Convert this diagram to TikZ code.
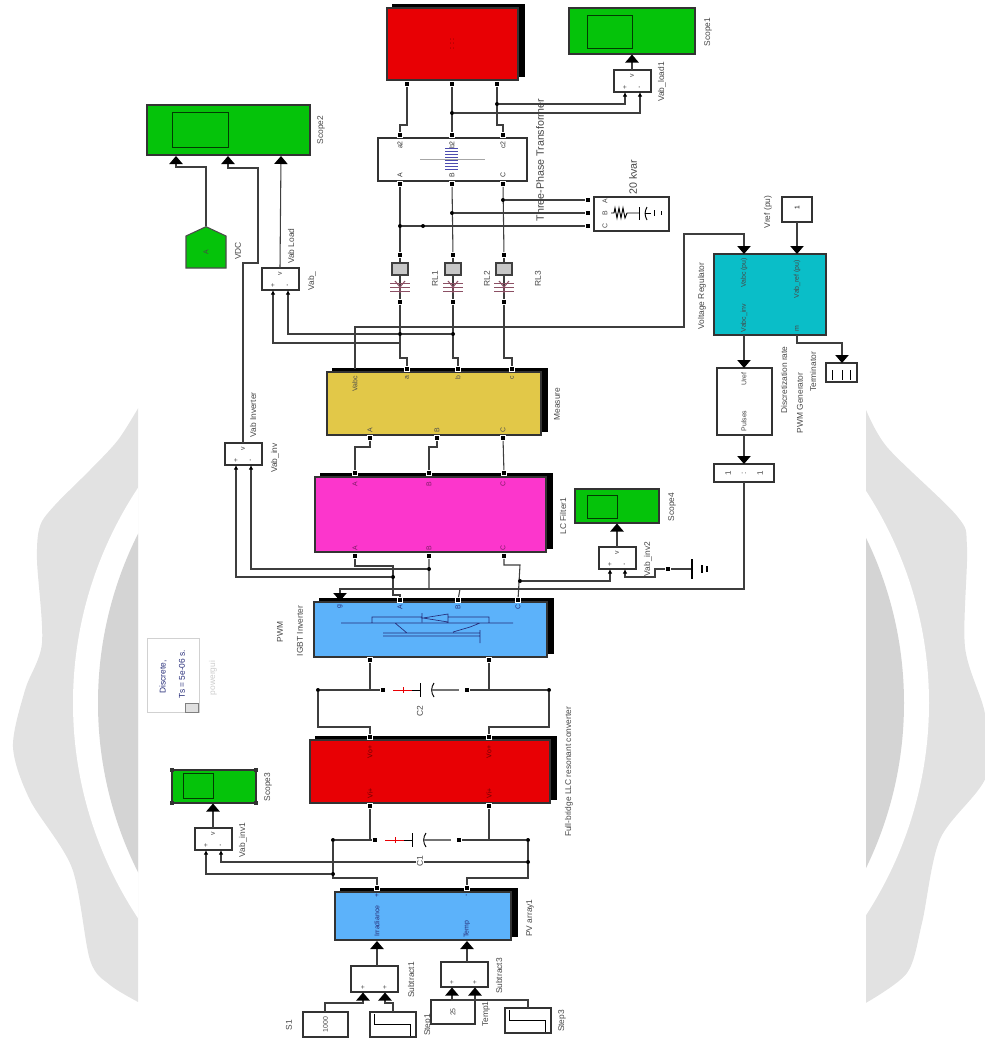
\documentclass[tikz,border=0pt]{standalone}
\usepackage{fontspec}
\setmainfont{Liberation Sans}
\usetikzlibrary{arrows.meta,calc,fit,positioning,shadows,shapes.symbols}
\definecolor{slgreen}{RGB}{5,195,10}
\definecolor{slblue}{RGB}{92,178,250}
\definecolor{slred}{RGB}{232,0,4}
\definecolor{slpink}{RGB}{252,54,204}
\definecolor{slgold}{RGB}{226,200,72}
\definecolor{slteal}{RGB}{10,190,200}
\definecolor{slnavy}{RGB}{38,44,120}
\definecolor{slwire}{RGB}{62,62,62}
\definecolor{slcoil}{RGB}{140,80,100}
\definecolor{wmouter}{RGB}{226,226,226}
\definecolor{wminner}{RGB}{212,212,212}

\begin{document}
\begin{tikzpicture}[
  x=0.75pt,y=-0.75pt,
  block/.style={draw=black!80,line width=0.8pt,inner sep=0pt,outer sep=0pt},
  blackback/.style={block,copy shadow={shadow xshift=4.5pt,shadow yshift=2.4pt,fill=black,draw=black,opacity=1}},
  scopebox/.style={block,fill=slgreen},
  screen/.style={draw=black!70!slgreen,line width=0.7pt,inner sep=0pt},
  lbl/.style={rotate=90,font=\fontsize{6.3}{7}\selectfont,text=black!72,inner sep=0pt},
  bigtxt/.style={lbl,font=\fontsize{8}{9}\selectfont},
  ptxt/.style={lbl,font=\fontsize{5.2}{6}\selectfont},
  port/.style={draw=white,fill=black,line width=1pt,inner sep=0pt,minimum width=4.2pt,minimum height=3.4pt},
  dot/.style={circle,fill=black,inner sep=0pt,minimum size=3pt},
  wire/.style={slwire,line width=0.8pt},
  sig/.style={wire,-{Triangle[length=6pt,width=10pt,color=black]}},
  sigs/.style={wire,-{Latex[length=3.5pt,width=3.5pt,color=black]}},
  sym/.style={line width=0.5pt}
]
  \useasboundingbox (0,0) rectangle (985,1040);

  % watermark
  \begin{scope}
    \clip (0,0) rectangle (138,1040);
    \fill[wmouter] plot[smooth] coordinates {(140,405) (118,440) (90,470) (55,505) (40,526) (37,560) (42,643) (25,690) (13,747) (30,800) (72,868) (90,960) (110,985) (140,1003)} -- cycle;
    \fill[white] (501,703) ellipse [x radius=428,y radius=406];
    \fill[wminner] (501,703) ellipse [x radius=403,y radius=389];
  \end{scope}
  \begin{scope}
    \clip (866,0) rectangle (985,1040);
    \fill[wmouter] plot[smooth] coordinates {(864,405) (887,447) (957,516) (967,547) (965,647) (985,714) (986,777) (940,839) (922,923) (907,973) (864,1004)} -- cycle;
    \fill[white] (501,703) ellipse [x radius=428,y radius=406];
    \fill[wminner] (501,703) ellipse [x radius=403,y radius=389];
  \end{scope}

  % scopes
  \node[scopebox,fit={(147,105)(310,155)}] (scope2) {};
  \node[screen,fit={(172,112)(228,147)}] (scr2) {};
  \node[scopebox,fit={(569,8)(695,54)}] (scope1) {};
  \node[screen,fit={(587,15)(632,48)}] (scr1) {};
  \node[scopebox,fit={(575,489)(659,523)}] (scope4) {};
  \node[screen,fit={(587,495)(617,518)}] (scr4) {};
  \node[scopebox,fit={(172,770)(256,803)}] (scope3) {};
  \node[screen,fit={(183,773)(213,798)}] (scr3) {};
  \foreach \c in {north west,north east,south west,south east}
    \fill[black!80] (scope3.\c) ++(-2,-2) rectangle ++(4,4);
  \node[lbl] (lscope2) at (321,130) {Scope2};
  \node[lbl] (lscope1) at (708,32) {Scope1};
  \node[lbl] (lscope4) at (672,507) {Scope4};
  \node[lbl] (lscope3) at (268,787) {Scope3};

  % main chain
  \node[blackback,fill=slred,fit={(387,8)(518,80)}] (load) {};
  \node[block,fill=white,fit={(378,138)(527,181)}] (xfmr) {};
  \node[blackback,fill=slgold,fit={(327,372)(541,435)}] (measure) {};
  \node[blackback,fill=slpink,fit={(315,477)(546,552)}] (filter) {};
  \node[blackback,fill=slblue,fit={(314,602)(547,657)}] (inverter) {};
  \node[blackback,fill=slred,fit={(310,740)(550,803)}] (llc) {};
  \node[blackback,fill=slblue,fit={(335,892)(511,940)}] (pv) {};

  \node[lbl] (lmeasure) at (557,404) {Measure};
  \node[lbl] (lfilter) at (563,516) {LC Filter1};
  \node[lbl] (lpwm) at (280,632) {PWM};
  \node[lbl] (liv) at (300,631) {IGBT Inverter};
  \node[lbl] (lllc) at (569,772) {Full-bridge LLC resonant converter};
  \node[lbl] (lpv) at (530,918) {PV array1};
  \node[bigtxt] (lxf) at (540,160) {Three-Phase Transformer};
  \node[ptxt,text=black!70!red] (ldash) at (452,44) {: : :};

  % control side
  \node[block,fill=white,fit={(782,197)(812,222)}] (vref) {\fontsize{5}{6}\selectfont\rotatebox{90}{1}};
  \node[block,fill=slteal,fit={(714,254)(826,335)}] (regulator) {};
  \node[block,fill=white,fit={(717,368)(772,435)}] (pulses) {};
  \node[block,fill=white,fit={(714,464)(774,482)}] (mux) {};
  \node[block,fill=white,fit={(826,363)(857,382)}] (term) {};
  \node[block,fill=white,fit={(594,197)(669,231)}] (bank) {};
  \node[lbl] (lvref) at (768,212) {Vref (pu)};
  \node[lbl] (lreg) at (702,296) {Voltage Regulator};
  \node[lbl] (ldisc) at (784,380) {Discretization rate};
  \node[lbl] (lgen) at (800,403) {PWM Generator};
  \node[lbl] (lterm) at (813,372) {Terminator};
  \node[bigtxt] (lbank) at (633,177) {20 kvar};
  \node[ptxt] (t1) at (744,273) {Vabc (pu)};
  \node[ptxt] (t2) at (744,318) {Vabc\_inv};
  \node[ptxt] (t3) at (797,279) {Vab\_ref (pu)};
  \node[ptxt] (t4) at (797,329) {m};
  \node[ptxt] (t5) at (744,379) {Uref};
  \node[ptxt] (t6) at (744,421) {Pulses};
  \node[ptxt,font=\fontsize{6}{7}\selectfont] (t7) at (728,473) {1};
  \node[ptxt,font=\fontsize{6}{7}\selectfont] (t8) at (744,473) {:};
  \node[ptxt,font=\fontsize{6}{7}\selectfont] (t9) at (760,473) {1};

  % voltage measurements
  \foreach \n/\x/\y in {vload/262/268,vload1/614/70,vinv/225/443,vinv2/599/547,vinv1/195/828} {
    \node[block,fill=white,fit={(\x,\y)(\x+37,\y+22)}] (\n) {};
    \coordinate (\n I1) at (\x+11,\y+22);
    \coordinate (\n I2) at (\x+26,\y+22);
    \coordinate (\n O) at (\x+18,\y);
    \node[ptxt] at (\x+11,\y+17) {+};
    \node[ptxt] at (\x+26,\y+17) {-};
    \node[ptxt] at (\x+18,\y+6) {v};
  }
  \node[lbl] (lv1) at (291,246) {Vab Load};
  \node[lbl] (lv2) at (312,281) {Vab\_};
  \node[lbl] (lv3) at (662,82) {Vab\_load1};
  \node[lbl] (lv4) at (253,415) {Vab Inverter};
  \node[lbl] (lv5) at (275,458) {Vab\_inv};
  \node[lbl] (lv6) at (648,559) {Vab\_inv2};
  \node[lbl] (lv7) at (243,840) {Vab\_inv1};
  \node[lbl] (lvdc) at (238,251) {VDC};
  \node[signal,signal to=north,signal pointer angle=130,draw=black!70,line width=0.8pt,fill=slgreen,
    minimum width=30pt,minimum height=24pt,inner sep=0pt] (gotoA) at (206,252) {};
  \node[ptxt] at (gotoA) {A};

  % solver box
  \node[draw=black!18,fit={(147,638)(199,712)},inner sep=0pt] (gui) {};
  \node[lbl,text=slnavy] (g1) at (163,677) {Discrete,};
  \node[lbl,text=slnavy] (g2) at (182,674) {Ts = 5e-06 s.};
  \node[draw=black!50,fill=black!12,fit={(185,703)(198,712)},inner sep=0pt] (g3) {};
  \node[lbl,text=black!20] (g4) at (213,678) {powergui};

  % PV inputs
  \node[block,fill=white,fit={(351,966)(398,992)}] (sub1) {};
  \node[block,fill=white,fit={(441,962)(488,987)}] (sub3) {};
  \node[block,fill=white,fit={(303,1012)(348,1037)}] (s1) {};
  \node[block,fill=white,fit={(370,1012)(416,1037)}] (step1) {};
  \node[block,fill=white,fit={(431,1000)(475,1024)}] (temp) {};
  \node[block,fill=white,fit={(505,1008)(551,1033)}] (step3) {};
  \foreach \x/\y in {370/1012,505/1008}
    \draw[sym,black,line width=0.7pt] (\x+4,\y+2) -- (\x+4,\y+12) -- (\x+40,\y+12) -- (\x+40,\y+24);
  \node[ptxt] at (s1) {1000};
  \node[ptxt] at (temp) {25};
  \node[lbl] (lsub1) at (411,980) {Subtract1};
  \node[lbl] (lsub3) at (499,976) {Subtract3};
  \node[lbl] (ls1) at (289,1025) {S1};
  \node[lbl] (lst1) at (428,1025) {Step1};
  \node[lbl] (ltm) at (486,1014) {Temp1};
  \node[lbl] (lst3) at (562,1021) {Step3};
  \node[ptxt] at (363,987) {+};
  \node[ptxt] at (385,987) {+};
  \node[ptxt] at (452,982) {+};
  \node[ptxt] at (475,982) {+};

  % ports on the power blocks
  \foreach \n/\x in {1/407,2/452,3/497} \node[port] (loadP\n) at (\x,84) {};
  \foreach \n/\x/\xb/\xc/\xd in {1/400/400/407/370,2/452/453/458/437,3/503/504/512/503} {
    \node[port] (xfT\n) at (\x,135) {};
    \node[port] (xfB\n) at (\x,184) {};
    \node[port] (rlT\n) at (\xb,255) {};
    \node[port] (rlB\n) at (\xb,302) {};
    \node[port] (mT\n) at (\xc,369) {};
    \node[port] (mB\n) at (\xd,438) {};
  }
  \foreach \n/\x/\xi in {1/355/400,2/429/458,3/504/518} {
    \node[port] (fT\n) at (\x,473) {};
    \node[port] (fB\n) at (\x,556) {};
    \node[port] (iT\n) at (\xi,600) {};
  }
  \foreach \n/\x/\xp in {1/370/377,2/489/467} {
    \node[port] (iB\n) at (\x,660) {};
    \node[port] (cT\n) at (\x,737) {};
    \node[port] (cB\n) at (\x,806) {};
    \node[port] (pT\n) at (\xp,888) {};
    \node[ptxt,text=slred!45!black] at (\x,752) {Vo+};
    \node[ptxt,text=slred!45!black] at (\x,793) {Vi+};
  }
  \coordinate (mV) at (355,369);
  \node[ptxt,text=slnavy] at (377,895) {+};
  \node[ptxt,text=slnavy] at (467,895) {-};
  \node[ptxt,text=slnavy] at (377,921) {Irradiance};
  \node[ptxt,text=slnavy] at (467,929) {Temp};
  \node[ptxt,text=black!70] at (355,384) {Vabc};
  \foreach \l/\x/\u in {a/407/A,b/458/B,c/512/C} \node[ptxt,text=black!70] at (\x,378) {\l};
  \foreach \l/\x in {A/370,B/437,C/503} \node[ptxt,text=black!70] at (\x,430) {\l};
  \foreach \l/\x in {A/355,B/429,C/503} {
    \node[ptxt,text=slpink!50!black] at (\x,484) {\l};
    \node[ptxt,text=slpink!50!black] at (\x,548) {\l};
  }
  \foreach \l/\x in {g/340,A/400,B/458,C/518} \node[ptxt,text=slnavy] at (\x,607) {\l};
  \foreach \l/\x in {a2/400,b2/452,c2/503} \node[ptxt,text=black!80] at (\x,145) {\l};
  \foreach \l/\x in {A/400,B/452,C/503} \node[ptxt,text=black!80] at (\x,175) {\l};

  % RL branches
  \foreach \n/\x in {1/400,2/453,3/504} {
    \draw[wire] (xfB\n) -- (rlT\n);
    \draw[wire] (rlT\n) -- (rlB\n);
    \node[draw=black!75,fill=black!22,line width=0.8pt,fit={(\x-8,263)(\x+8,275)},inner sep=0pt] (rlR\n) {};
    \foreach \d in {283,287,291}
      \draw[slcoil,line width=0.7pt] (\x-10,\d) -- (\x+10,\d);
    \draw[slcoil,line width=0.8pt] (\x-5,281) -- (\x,287) -- (\x+5,281) (\x,287) -- (\x,293);
  }
  \node[lbl] (lrl1) at (435,279) {RL1};
  \node[lbl] (lrl2) at (487,279) {RL2};
  \node[lbl] (lrl3) at (538,279) {RL3};

  % transformer symbol
  \draw[sym,black!35] (420,159) -- (485,159);
  \foreach \d in {148,151,...,169}
    \draw[sym,blue!55!black!70] (445,\d) -- (458,\d);

  % bank symbol
  \foreach \l/\y in {A/201,B/213,C/226} \node[ptxt] at (605,\y) {\l};
  \draw[sym,line width=0.7pt] (611,213) -- (614,213) -- (615,208) -- (617,218) -- (619,208) -- (621,218) -- (623,208) -- (625,218) -- (627,213) -- (639,213);
  \draw[sym,line width=0.7pt] (639,207) -- (639,220);
  \draw[sym,line width=0.7pt] (647,207) to[bend right=30] (647,220);
  \draw[sym,line width=0.7pt] (645,213) -- (651,213) (654,210) -- (654,216) (661,211) -- (661,215);

  % terminator ticks
  \draw[sym,line width=0.7pt] (832,370) -- (832,380) (842,370) -- (842,380) (850,370) -- (850,380);

  % inverter symbol
  \draw[sym,slnavy] (341,623) -- (513,623)
    (372,623) -- (372,617) -- (422,617) (422,613) -- (422,622)
    (423,618) -- (448,614) -- (448,622) -- cycle
    (448,617) -- (489,617) -- (489,623)
    (383,633) -- (480,633) (383,636) -- (480,636) (480,630) -- (480,643)
    (395,623) -- (407,633) (453,632) -- (470,627) -- (480,623);

  % capacitors
  \foreach \n/\y/\dx/\l/\r in {2/690/0/318/549,1/840/-8/333/528} {
    \node[dot] (capL\n) at (\l,\y) {};
    \node[dot] (capR\n) at (\r,\y) {};
    \node[port] (capA\n) at (383+\dx,\y) {};
    \node[port] (capB\n) at (467+\dx,\y) {};
    \draw[wire] (capL\n) -- (capA\n);
    \draw[wire] (capB\n) -- (capR\n);
    \draw[slred,line width=0.6pt] (393+\dx,\y) -- (412+\dx,\y) (403+\dx,\y-3) -- (403+\dx,\y+3);
    \draw[line width=0.7pt] (412+\dx,\y) -- (420+\dx,\y) (420+\dx,\y-7) -- (420+\dx,\y+7);
    \draw[line width=0.7pt] (434+\dx,\y-7) to[bend right=35] (434+\dx,\y+7);
    \draw[wire,black!55] (432+\dx,\y) -- (459+\dx,\y);
  }
  \node[lbl] (lc2) at (420,711) {C2};

  % phases down the chain
  \draw[wire] (loadP1) |- (400,125) -- (xfT1);
  \draw[wire] (loadP2) -- (xfT2);
  \draw[wire] (loadP3) |- (503,125) -- (xfT3);
  \draw[wire] (rlB1) |- (407,358) -- (mT1);
  \draw[wire] (rlB2) |- (458,358) -- (mT2);
  \draw[wire] (rlB3) |- (512,358) -- (mT3);
  \draw[wire] (mB1) |- (355,447) -- (fT1);
  \draw[wire] (mB2) |- (429,447) -- (fT2);
  \draw[wire] (mB3) -- (fT3);
  \draw[wire] (fB1) |- (393,566) -- (393,595) -| (iT1);
  \draw[wire] (fB2) -- (429,589) (460,589) -- (iT2);
  \draw[wire] (fB3) |- (520,565) -- (iT3);
  \draw[wire] (iB1) |- (capL2) |- (318,727) -| (cT1);
  \draw[wire] (iB2) |- (capR2) |- (549,727) -| (cT2);
  \draw[wire] (cB1) |- (capL1) |- (333,878) -| (pT1);
  \draw[wire] (cB2) |- (capR1) |- (528,878) -| (pT2);

  % shunt bank taps
  \foreach \n/\y in {3/200,2/213,1/226} {
    \node[port] (bk\n) at (588,\y) {};
    \node[dot] (tap\n) at (xfB\n |- bk\n) {};
    \draw[wire] (tap\n) -- (bk\n);
  }
  \node[dot] (tapmark) at (423,226) {};

  % measurement signals
  \node[dot] (jl3) at (497,104) {};
  \node[dot] (jl2) at (452,113) {};
  \draw[sigs] (jl3) -| (vload1I1);
  \draw[sigs] (jl2) -| (vload1I2);
  \draw[sig] (vload1O) -- (632,54.5);
  \node[dot] (jr1) at (400,334) {};
  \node[dot] (jr2) at (453,334) {};
  \draw[wire] (jr2) -- (jr1);
  \draw[sigs] (jr1) -| (vloadI2);
  \coordinate (jr3) at (400,343);
  \draw[sigs] (jr3) -| (vloadI1);
  \draw[sig] (vloadO) -- (281,156);
  \draw[sig] (vinvO) |- (258,263) |- (228,168) -- (228,156);
  \draw[sig] (gotoA.north) |- (176,167) -- (176,156);
  \node[dot] (jf1) at (393,577) {};
  \node[dot] (jf2) at (429,569) {};
  \node[dot] (jf3) at (520,581) {};
  \draw[sigs] (jf1) -| (vinvI1);
  \draw[sigs] (jf2) -| (vinvI2);
  \draw[sigs] (jf3) -| (vinv2I1);
  \node[port] (gndP) at (668,569) {};
  \draw[sigs] (gndP) -| (655,577) -| (vinv2I2);
  \draw[wire] (gndP) -- (692,569);
  \draw[line width=0.8pt] (692,559) -- (692,579) (702,565) -- (702,573) (707,566) -- (707,572);
  \draw[sig] (vinv2O) -- (617,523.5);
  \node[dot] (jc1) at (333,874) {};
  \node[dot] (jc2) at (528,862) {};
  \draw[sigs] (jc1) -| (vinv1I1);
  \draw[sigs] (jc2) -| (vinv1I2);
  \draw[sig] (vinv1O) -- (213,803.5);
  \node[lbl,fill=white,inner sep=1pt] (lc1) at (420,861) {C1};

  % control signals
  \draw[sig] (vref) -- (797,254);
  \draw[sig] (355,369) |- (684,327) |- (744,234) -- (744,254);
  \draw[sig] (744,335) -- (744,368);
  \draw[sig] (797,335) |- (842,343) -- (842,363);
  \draw[sig] (744,435) -- (744,464);
  \draw[sig] (mux) -- (744,589) -| (340,601);

  % PV inputs wiring
  \draw[sig] (sub1.north -| 377,0) -- (377,941);
  \draw[sig] (sub3.north -| 467,0) -- (467,941);
  \draw[sig] (325,1012) |- (363,1003) -- (363,992.5);
  \draw[sig] (393,1012) |- (385,1003) -- (385,992.5);
  \draw[sig] (475,1000) -- (475,987.5);
  \draw[sig] (528,1008) |- (477,1000) -- (452,1000) -- (452,987.5);
\end{tikzpicture}
\end{document}
